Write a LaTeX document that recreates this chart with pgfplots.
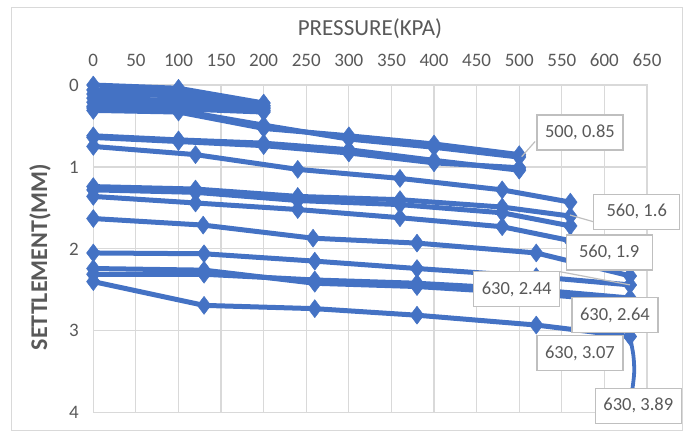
\documentclass[border=0pt]{standalone}
\usepackage{pgfplots}
\pgfplotsset{compat=1.18}
\usepackage{fontspec}
\setmainfont{Carlito}
\definecolor{exblue}{HTML}{4472C4}
\definecolor{txtgray}{HTML}{595959}
\definecolor{gridgray}{HTML}{D9D9D9}
\definecolor{boxgray}{HTML}{BFBFBF}
\tikzset{lbl/.style={draw=boxgray, line width=1.2pt, fill=white, text=txtgray, font=\fontsize{18.5}{18.5}\selectfont, minimum width=86pt, minimum height=35pt, inner sep=2pt},
 ser/.style={color=exblue, line width=5pt, mark=diamond*, mark size=9pt, mark options={solid, line width=0.5pt, fill=exblue}, line join=round},
 crv/.style={color=exblue, line width=3.8pt, no markers, smooth}}
\begin{document}
\begin{tikzpicture}[x=1pt,y=1pt]
\useasboundingbox (0,0) rectangle (686,432);
\draw[gridgray, line width=1pt] (11,2) rectangle (682,424);
\begin{axis}[
 at={(370.15pt,183.15pt)}, anchor=center,
 scale only axis, width=553.7pt, height=327.7pt,
 xmin=0, xmax=650, ymin=0, ymax=4, y dir=reverse,
 xtick distance=50, ytick={0,1,2,3,4},
 xticklabel pos=right,
 major tick length=0pt,
 grid=major, grid style={gridgray, line width=1.2pt},
 axis line style={gridgray, line width=1.2pt},
 tick label style={font=\fontsize{19}{19}\selectfont, text=txtgray},
 xticklabel style={yshift=15pt},
 yticklabel style={xshift=-11pt},
 /pgf/number format/assume math mode=true,
 clip=false,
]
% top group
\addplot[ser] coordinates {(0,0.00) (100,0.04) (200,0.22)};
\addplot[ser] coordinates {(0,0.06) (100,0.08) (200,0.25)};
\addplot[ser] coordinates {(0,0.11) (100,0.13) (200,0.27)};
\addplot[ser] coordinates {(0,0.16) (100,0.19) (200,0.29)};
\addplot[ser] coordinates {(0,0.21) (100,0.24) (200,0.31)};
\addplot[ser] coordinates {(0,0.26) (100,0.29) (200,0.33)};
% 0-500 group
\addplot[ser] coordinates {(0,0.31) (100,0.33) (200,0.53) (300,0.62) (400,0.72) (500,0.85)};
\addplot[ser] coordinates {(0,0.28) (100,0.31) (200,0.49) (300,0.66) (400,0.76) (500,0.88)};
\addplot[ser] coordinates {(0,0.62) (100,0.67) (200,0.71) (300,0.79) (400,0.92) (500,1.04)};
\addplot[ser] coordinates {(0,0.64) (100,0.69) (200,0.74) (300,0.83) (400,0.95) (500,1.01)};
% 0-560 group
\addplot[ser] coordinates {(0,0.75) (120,0.85) (240,1.03) (360,1.14) (480,1.28) (560,1.43)};
\addplot[ser] coordinates {(0,1.24) (120,1.27) (240,1.36) (360,1.40) (480,1.49) (560,1.60)};
\addplot[ser] coordinates {(0,1.28) (120,1.31) (240,1.41) (360,1.46) (480,1.56) (560,1.72)};
\addplot[ser] coordinates {(0,1.36) (120,1.44) (240,1.52) (360,1.62) (480,1.73) (560,1.90)};
% 0-630 group
\addplot[ser] coordinates {(0,1.63) (129,1.71) (258,1.87) (380,1.93) (520,2.05) (630,2.33)};
\addplot[ser] coordinates {(0,2.05) (130,2.06) (260,2.15) (380,2.24) (520,2.34) (630,2.44)};
\addplot[ser] coordinates {(0,2.24) (130,2.26) (260,2.42) (380,2.46) (520,2.55) (630,2.64)};
\addplot[ser] coordinates {(0,2.31) (130,2.31) (260,2.38) (380,2.42) (520,2.50) (630,2.60)};
\addplot[ser] coordinates {(0,2.40) (130,2.69) (260,2.73) (380,2.81) (520,2.93) (630,3.07)};
\addplot[crv] coordinates {(630,3.07) (634,3.3) (635,3.5) (633,3.7) (630,3.89)};
% anchor points for labels
\coordinate (a1) at (axis cs:518.6,0.69);   \coordinate (b1) at (axis cs:502.9,0.875);
\coordinate (a2) at (axis cs:559.6,1.587);  \coordinate (b2) at (axis cs:592.4,1.685);
\coordinate (a3) at (axis cs:547.9,2.279);  \coordinate (b3) at (axis cs:630,2.44);
\coordinate (L1) at (axis cs:571.3,0.58);
\coordinate (L2) at (axis cs:637.9,1.546);
\coordinate (L3) at (axis cs:605.6,2.044);
\coordinate (L4) at (axis cs:497.0,2.492);
\coordinate (L5) at (axis cs:612.4,2.807);
\coordinate (L6) at (axis cs:571.3,3.275);
\coordinate (L7) at (axis cs:639.8,3.916);
\end{axis}
\draw[boxgray, line width=1.2pt] (a1) -- (b1);
\draw[boxgray, line width=1.2pt] (a2) -- (b2);
\draw[boxgray, line width=1.2pt] (a3) -- (b3);
\node[lbl] at (L1) {500, 0.85};
\node[lbl] at (L2) {560, 1.6};
\node[lbl] at (L3) {560, 1.9};
\node[lbl] at (L4) {630, 2.44};
\node[lbl] at (L5) {630, 2.64};
\node[lbl] at (L6) {630, 3.07};
\node[lbl] at (L7) {630, 3.89};
\node[text=txtgray, font=\fontsize{23}{23}\selectfont] at (370,403) {PRESSURE(KPA)};
\node[text=txtgray, font=\fontsize{24}{24}\selectfont\bfseries, rotate=90] at (40,175) {SETTLEMENT(MM)};
\end{tikzpicture}
\end{document}
